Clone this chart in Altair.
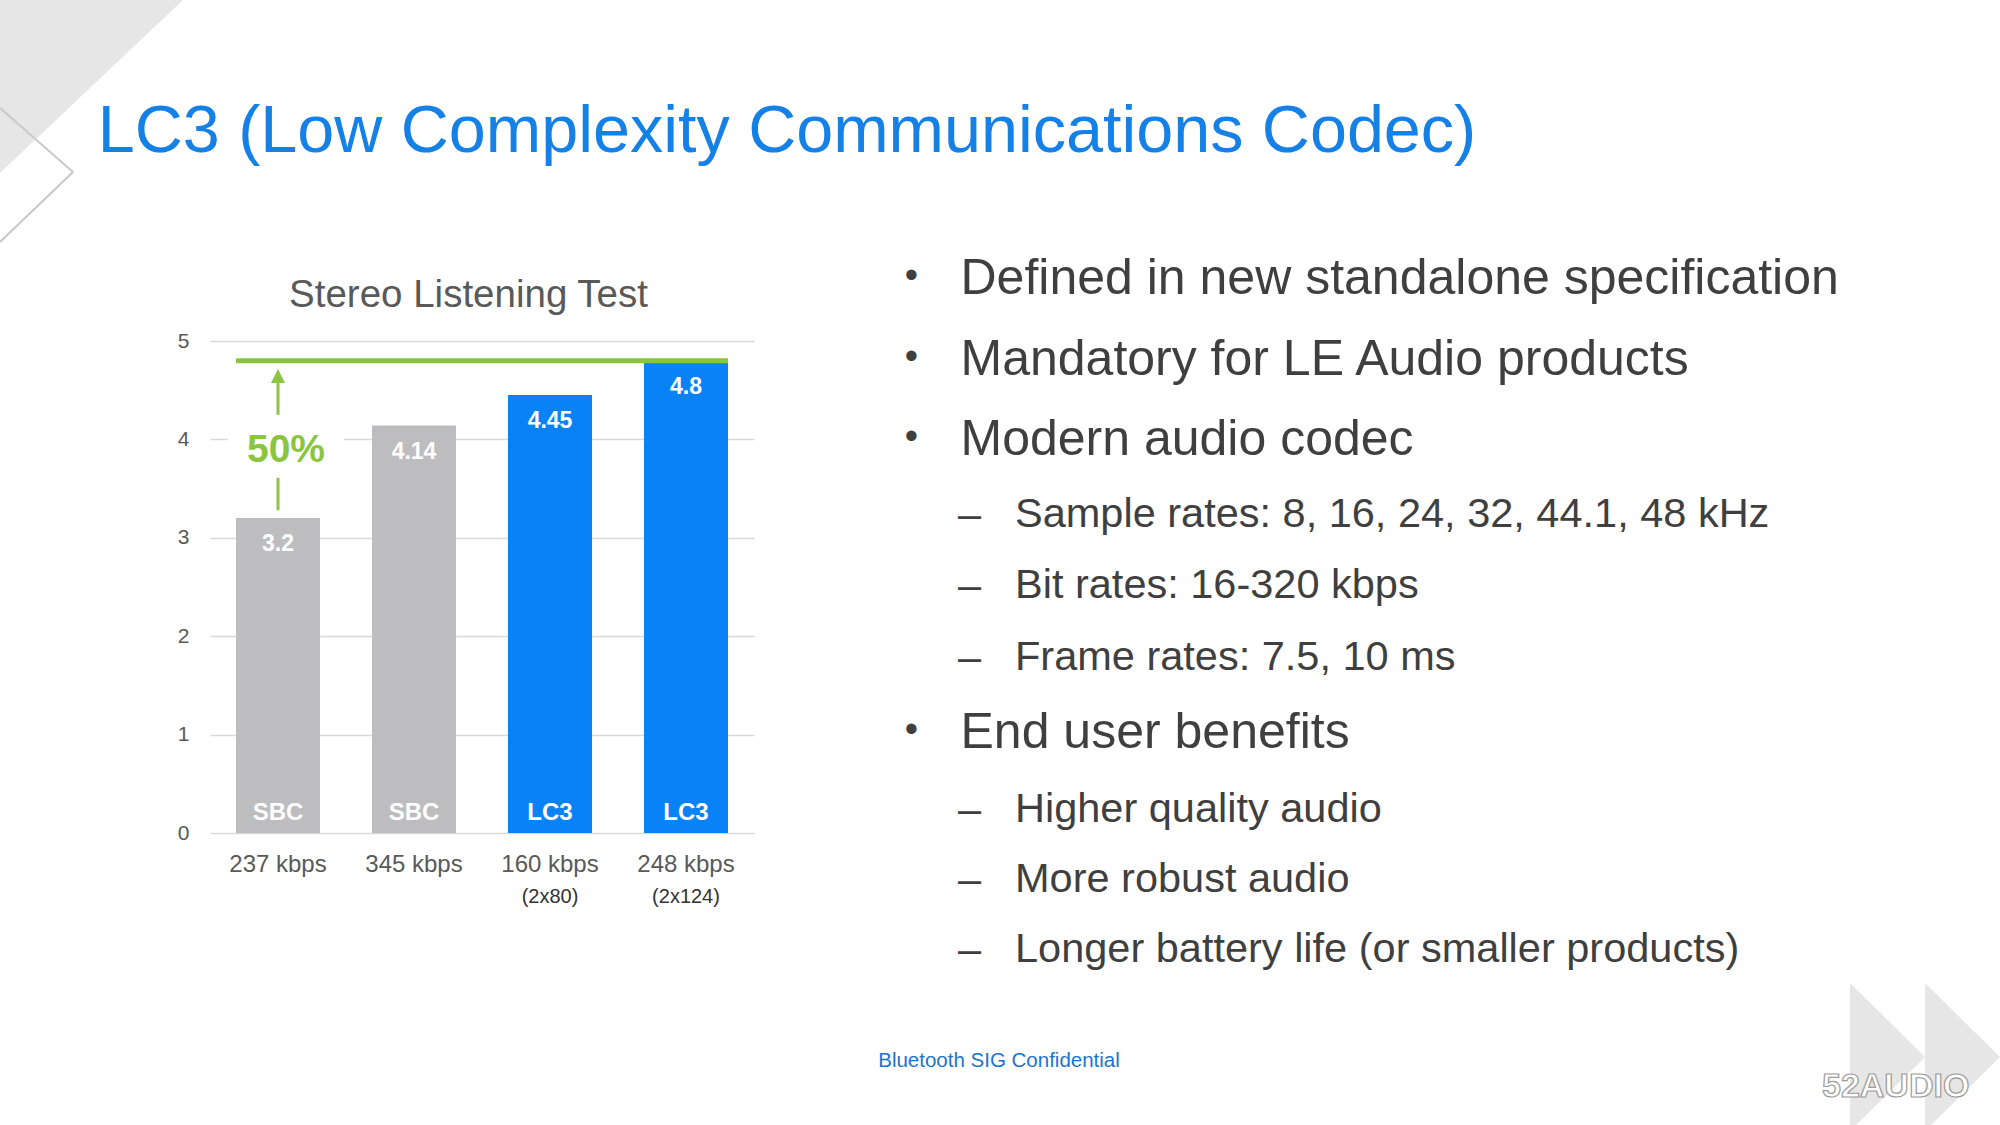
import altair as alt
import pandas as pd

# ---------------- data ----------------
rates = ["237 kbps", "345 kbps", "160 kbps", "248 kbps"]
sub_rates = ["", "", "(2x80)", "(2x124)"]
codecs = ["SBC", "SBC", "LC3", "LC3"]
scores = [3.2, 4.14, 4.45, 4.8]
y_ticks = [0, 1, 2, 3, 4, 5]

slide_title = "LC3 (Low Complexity Communications Codec)"
chart_title = "Stereo Listening Test"
footer = "Bluetooth SIG Confidential"
watermark = "52AUDIO"

main_points = [
    "Defined in new standalone specification",
    "Mandatory for LE Audio products",
    "Modern audio codec",
    "End user benefits",
]
sub_points = [
    "Sample rates: 8, 16, 24, 32, 44.1, 48 kHz",
    "Bit rates: 16-320 kbps",
    "Frame rates: 7.5, 10 ms",
    "Higher quality audio",
    "More robust audio",
    "Longer battery life (or smaller products)",
]
outline = [(0, 0), (0, 1), (0, 2), (1, 0), (1, 1), (1, 2), (0, 3), (1, 3), (1, 4), (1, 5)]

# ---------------- layout ----------------
OX, OY, W, H = 210, 341, 544, 492          # plot area in page pixels
TOTAL_W, TOTAL_H = 2000, 1125
FONT = "Liberation Sans"
BLUE = "#0A82F7"
TITLE_BLUE = "#1580E6"
GRAY_BAR = "#BDBDBF"
GREEN = "#8BC540"
TXT_GRAY = "#595959"
BODY = "#3F3F3F"


def px(x):
    return x - OX


def py(y):
    return y - OY


one = pd.DataFrame({"k": [0]})

df = pd.DataFrame({
    "rate": rates,
    "sub": sub_rates,
    "codec": codecs,
    "score": scores,
    "label": [f"{s:g}" for s in scores],
})

x_enc = alt.X(
    "rate:N", sort=rates,
    scale=alt.Scale(paddingInner=0.382, paddingOuter=0.191),
    axis=alt.Axis(title=None, labelAngle=0, labelFontSize=24, labelColor=TXT_GRAY,
                  labelPadding=38.5, labelBaseline="alphabetic", ticks=False,
                  domain=False, grid=False, labelFont=FONT),
)
y_enc = alt.Y(
    "score:Q", scale=alt.Scale(domain=[0, 5], nice=False),
    axis=alt.Axis(title=None, values=y_ticks, format="d", labelFontSize=21,
                  labelColor=TXT_GRAY, labelPadding=21, ticks=False, domain=False,
                  gridColor="#D9D9D9", gridWidth=1.5, labelFont=FONT),
)

layers = []


# decorations (background shapes)
def tri(cx, cy, path, side):
    return alt.Chart(one).mark_point(
        shape=path, filled=True, opacity=1, strokeWidth=0, color="#E6E6E6"
    ).encode(x=alt.value(px(cx)), y=alt.value(py(cy)), size=alt.value(side * side))


layers.append(tri(91.5, 91.5, "M-1,-1L1,-1L-1,0.891Z", 183))
layers.append(tri(1924, 1057, "M-1,-1L0.0135,0L-1,1Z", 148))
layers.append(tri(1999, 1057, "M-1,-1L0.0135,0L-1,1Z", 148))
for (x1, y1, x2, y2) in [(0, 108, 73, 172), (73, 172, 0, 242)]:
    layers.append(alt.Chart(one).mark_rule(color="#C8C8C8", strokeWidth=2).encode(
        x=alt.value(px(x1)), y=alt.value(py(y1)), x2=alt.value(px(x2)), y2=alt.value(py(y2))))

# bars
bars = alt.Chart(df).mark_bar().encode(
    x=x_enc, y=y_enc,
    color=alt.Color("codec:N", scale=alt.Scale(domain=["SBC", "LC3"], range=[GRAY_BAR, BLUE]), legend=None),
)
layers.append(bars)

# green reference line at the best score
best = max(scores)
layers.append(alt.Chart(pd.DataFrame({"score": [best]})).mark_rule(color=GREEN, strokeWidth=5).encode(
    x=alt.value(26), x2=alt.value(518), y=y_enc))

# white box behind the "50%" label
layers.append(alt.Chart(one).mark_rect(color="white").encode(
    x=alt.value(px(228)), x2=alt.value(px(344)), y=alt.value(py(422)), y2=alt.value(py(474))))

# arrow
for lo, hi in [(4.25, 4.6), (3.28, 3.61)]:
    layers.append(alt.Chart(pd.DataFrame({"rate": [rates[0]], "score": [lo], "score2": [hi]}))
                  .mark_rule(color=GREEN, strokeWidth=3).encode(x=x_enc, y=y_enc, y2="score2:Q"))
layers.append(alt.Chart(pd.DataFrame({"rate": [rates[0]], "score": [4.644]})).mark_point(
    shape="M0,-1L1,1L-1,1Z", filled=True, opacity=1, strokeWidth=0, color=GREEN, size=196
).encode(x=x_enc, y=y_enc))

gain = f"{round((best - scores[0]) / scores[0] * 100)}%"
layers.append(alt.Chart(pd.DataFrame({"rate": [rates[0]], "score": [3.77], "t": [gain]})).mark_text(
    font=FONT, fontSize=39, fontWeight="bold", color=GREEN, baseline="alphabetic", dx=8
).encode(x=x_enc, y=y_enc, text="t:N"))

# value labels and codec labels
layers.append(alt.Chart(df).mark_text(
    font=FONT, fontSize=23, fontWeight="bold", color="white", baseline="alphabetic", dy=33
).encode(x=x_enc, y=y_enc, text="label:N"))
layers.append(alt.Chart(df).mark_text(
    font=FONT, fontSize=24, fontWeight="bold", color="white", baseline="alphabetic"
).encode(x=x_enc, y=alt.value(H - 13.5), text="codec:N"))
layers.append(alt.Chart(df).mark_text(
    font=FONT, fontSize=20, color="#333333", baseline="alphabetic"
).encode(x=x_enc, y=alt.value(H + 70), text="sub:N"))


# free text
def txt(s, x, y, size, color, align="left", weight="normal", **kw):
    return alt.Chart(pd.DataFrame({"t": [s]})).mark_text(
        font=FONT, fontSize=size, color=color, align=align, baseline="alphabetic",
        fontWeight=weight, **kw
    ).encode(x=alt.value(px(x)), y=alt.value(py(y)), text="t:N")


layers.append(txt(slide_title, 97.7, 151.7, 66.5, TITLE_BLUE))
layers.append(txt(chart_title, 468.5, 306.7, 38.5, TXT_GRAY, align="center"))

baselines = [294, 375, 455, 527, 598, 670, 748, 822, 892, 962]
for (lvl, idx), b in zip(outline, baselines):
    if lvl == 0:
        layers.append(txt("•", 911.5, b - 6.5, 38, BODY, align="center"))
        layers.append(txt(main_points[idx], 960.5, b, 50, BODY))
    else:
        layers.append(txt("–", 969.5, b + 1, 41.5, BODY, align="center"))
        layers.append(txt(sub_points[idx], 1015, b, 41.5, BODY))

layers.append(txt(footer, 999, 1067, 20.5, "#1B74D0", align="center"))
layers.append(txt(watermark, 1822, 1097, 34, "white", weight="bold", stroke="#9A9A9A", strokeWidth=1.2))

chart = alt.layer(*layers).properties(
    width=W, height=H,
    autosize=alt.AutoSizeParams(type="none"),
    padding={"left": OX, "top": OY, "right": TOTAL_W - OX - W, "bottom": TOTAL_H - OY - H},
    background="white",
).configure(font=FONT, view=alt.ViewConfig(stroke=None))

chart.save("out.html", embed_options={"renderer": "svg", "actions": False})
